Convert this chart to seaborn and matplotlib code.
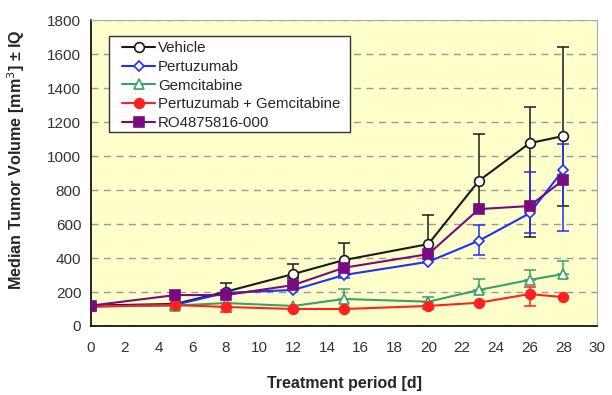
import numpy as np
import pandas as pd
import matplotlib
matplotlib.use("Agg")
import matplotlib.pyplot as plt
import matplotlib.patches as mpatches
import seaborn as sns

nan = np.nan
days = [0, 5, 8, 12, 15, 20, 23, 26, 28]
series = ["Vehicle", "Pertuzumab", "Gemcitabine", "Pertuzumab + Gemcitabine", "RO4875816-000"]

vehicle = [120, 130, 202, 306, 388, 482, 855, 1076, 1118]
pertuzumab = [115, 125, 195, 212, 300, 378, 502, 663, 918]
gemcitabine = [115, 120, 135, 118, 159, 143, 212, 271, 306]
combo = [115, 123, 112, 100, 100, 118, 137, 188, 170]
ro = [120, 182, 182, 241, 343, 423, 688, 706, 859]

vehicle_lo = [nan, nan, 180, 280, 340, 420, 690, 525, 706]
vehicle_hi = [nan, nan, 253, 365, 488, 653, 1129, 1288, 1643]
pertuzumab_lo = [nan, nan, nan, nan, 282, nan, 418, 547, 559]
pertuzumab_hi = [nan, nan, nan, nan, nan, nan, 594, 906, 1070]
gemcitabine_lo = [nan, 100, nan, nan, nan, nan, nan, nan, nan]
gemcitabine_hi = [nan, nan, nan, nan, 217, 172, 276, 329, 384]
combo_lo = [nan, nan, 80, nan, nan, 100, nan, 118, nan]
combo_hi = [nan, nan, 135, nan, nan, nan, nan, 230, nan]

values = [vehicle, pertuzumab, gemcitabine, combo, ro]
lows = [vehicle_lo, pertuzumab_lo, gemcitabine_lo, combo_lo, None]
highs = [vehicle_hi, pertuzumab_hi, gemcitabine_hi, combo_hi, None]

colors = ["#1a1a1a", "#1f2fff", "#3aa06a", "#ff2020", "#7a0a80"]
markers = ["o", "D", "^", "o", "s"]
mfc = ["white", "white", "white", "#ff2020", "#7a0a80"]
msizes = [7, 5.5, 7, 7, 7]

df = pd.DataFrame({
    "day": days * len(series),
    "value": sum(values, []),
    "group": sum([[s] * len(days) for s in series], []),
})

sns.set_style("white")
plt.rcParams["font.family"] = ["Liberation Sans", "DejaVu Sans"]

fig = plt.figure(figsize=(6.12, 3.95), dpi=100)
ax = fig.add_axes([0.1487, 0.1747, 0.8268, 0.7743])
ax.set_facecolor("#ffffcc")

for i, s in enumerate(series):
    if lows[i] is not None:
        v = np.array(values[i], float)
        lo = np.array(lows[i], float)
        hi = np.array(highs[i], float)
        elo = np.where(np.isnan(lo), 0, v - lo)
        ehi = np.where(np.isnan(hi), 0, hi - v)
        mask = ~(np.isnan(lo) & np.isnan(hi))
        ax.errorbar(np.array(days)[mask], v[mask], yerr=[elo[mask], ehi[mask]],
                    fmt="none", ecolor=colors[i], elinewidth=1.1, capsize=4,
                    capthick=1.1, zorder=2)

for i, s in enumerate(series):
    sub = df[df["group"] == s]
    sns.lineplot(data=sub, x="day", y="value", ax=ax, color=colors[i],
                 marker=markers[i], markersize=msizes[i], markerfacecolor=mfc[i],
                 markeredgecolor=colors[i], markeredgewidth=1.2, linewidth=1.5,
                 label=s, zorder=3)

ax.set_xlim(0, 30)
ax.set_ylim(0, 1800)
ax.set_xticks(range(0, 31, 2))
ax.set_yticks(range(0, 1801, 200))
ax.yaxis.grid(True, linestyle=(0, (5, 4)), color="#999999", linewidth=1)
ax.set_axisbelow(True)
ax.tick_params(axis="both", direction="inout", length=6, width=1, colors="black",
               labelsize=11, labelcolor="#333333")
ax.tick_params(axis="x", pad=8)
ax.tick_params(axis="y", pad=4)
for side in ["left", "bottom"]:
    ax.spines[side].set_color("black")
    ax.spines[side].set_linewidth(1.2)
for side in ["top", "right"]:
    ax.spines[side].set_color("#aaaaaa")
    ax.spines[side].set_linewidth(0.8)

ax.set_xlabel("Treatment period [d]", fontsize=11.5, fontweight="bold", labelpad=15)
ax.set_ylabel("Median Tumor Volume [mm$^3$] ± IQ", fontsize=11.6, fontweight="bold")
ax.yaxis.set_label_coords(-0.126, 0.545)

# legend frame
frame = mpatches.Rectangle((0.0356, 0.634), 0.5119 - 0.0356, 0.9477 - 0.634,
                           transform=ax.transAxes, facecolor="white",
                           edgecolor="#333333", linewidth=1.0, zorder=5)
ax.add_patch(frame)
leg = ax.legend(loc="upper left", bbox_to_anchor=(0.0613, 0.931), borderaxespad=0,
                frameon=False, fontsize=10.8, handlelength=2.2, borderpad=0,
                labelspacing=0.31, handletextpad=0.2)
leg.set_zorder(6)

fig.savefig("out.png", dpi=100, facecolor="white")
